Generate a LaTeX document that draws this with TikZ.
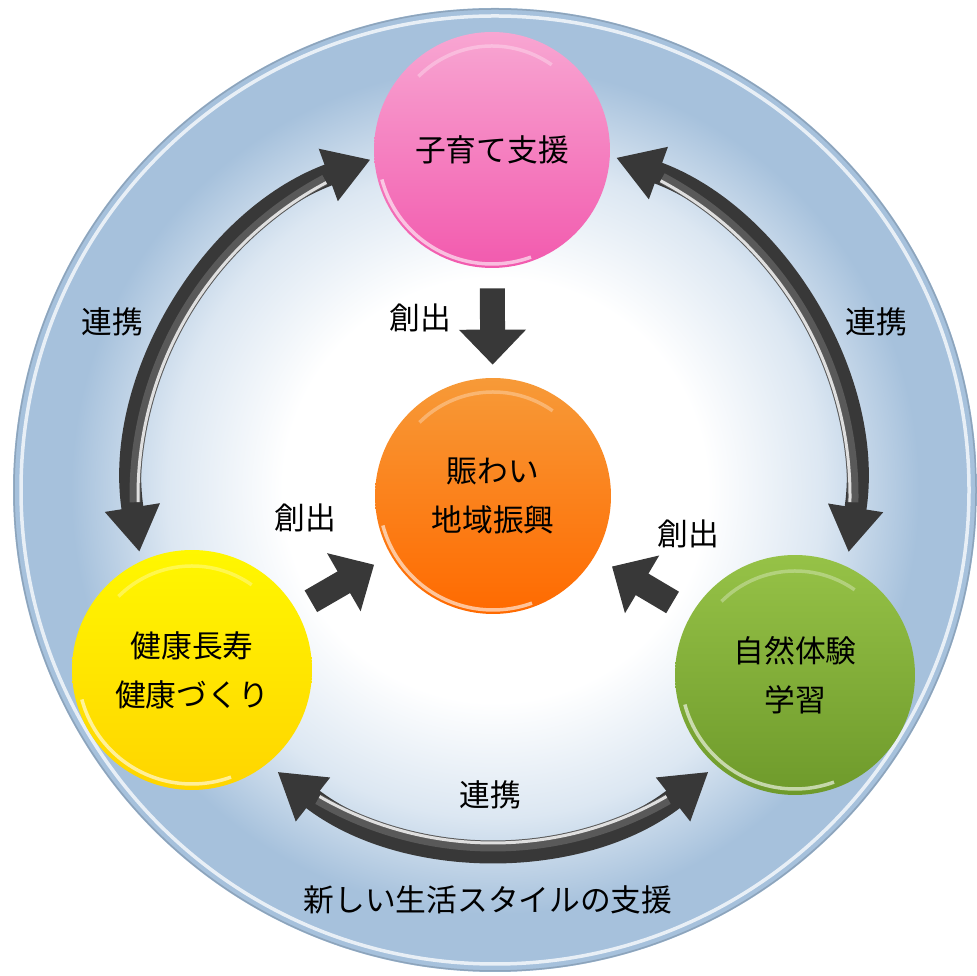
\documentclass[tikz,border=0pt]{standalone}
\usepackage{fontspec}
\setmainfont{Noto Sans CJK JP}
\usetikzlibrary{arrows.meta, positioning, calc}
\definecolor{bgedge}{HTML}{A6C1DC}
\definecolor{bgmid}{HTML}{DCE7F2}
\definecolor{tube}{HTML}{383838}
\definecolor{pinktop}{HTML}{F8A6D2}
\definecolor{pinkbot}{HTML}{F25AAE}
\definecolor{orangetop}{HTML}{F79A38}
\definecolor{orangebot}{HTML}{FF6A00}
\definecolor{yellowtop}{HTML}{FFF700}
\definecolor{yellowbot}{HTML}{FFD500}
\definecolor{greentop}{HTML}{96C247}
\definecolor{greenbot}{HTML}{6E9A2B}
\pgfdeclareradialshading{backdisc}{\pgfpoint{0bp}{0bp}}{color(0bp)=(white); color(11bp)=(white); color(17bp)=(bgmid); color(22bp)=(bgedge); color(25bp)=(bgedge); color(50bp)=(bgedge)}

\begin{document}
\begin{tikzpicture}[x=0.02cm, y=0.02cm,
    >={Triangle[length=0.9cm,width=1.05cm]},
    every node/.style={font=\fontsize{17.5}{28}\selectfont},
    disc/.style={circle, minimum size=4.72cm, inner sep=0pt, align=center},
    word/.style={inner sep=0pt},
    renkei/.style={draw=tube, line width=0.44cm, <->},
    sosyutsu/.style={draw=tube, line width=0.5cm, -{Triangle[length=0.7cm,width=1.3cm]}},
    gloss/.style={draw=white, line width=0.07cm, opacity=0.6}]
  \useasboundingbox (0,0) rectangle (977,976);
  \fill[white] (0,0) rectangle (977,976);
  % background disc
  \shade[shading=backdisc] (495,486) circle (482);
  \draw[bgedge!85!black, line width=0.03cm] (495,486) circle (481);
  \draw[white, opacity=0.75, line width=0.07cm] (495,486) circle (474);

  \node[disc, top color=pinktop, bottom color=pinkbot] (kosodate) at (492,826) {子育て支援};
  \node[disc, top color=orangetop, bottom color=orangebot] (nigiwai) at (493,480) {賑わい\\地域振興};
  \node[disc, minimum size=4.8cm, top color=yellowtop, bottom color=yellowbot] (kenko) at (192,306) {健康長寿\\健康づくり};
  \node[disc, minimum size=4.8cm, top color=greentop, bottom color=greenbot] (shizen) at (795,301) {自然体験\\学習};
  \foreach \n in {kosodate, nigiwai, kenko, shizen}{
    \draw[gloss] ([shift={(195:114)}]\n.center) arc[start angle=195, end angle=290, radius=114];
    \draw[gloss, opacity=0.3] ([shift={(55:104)}]\n.center) arc[start angle=55, end angle=135, radius=104];
  }

  % curved arrows (renkei)
  \foreach \a/\b/\r in {189/110/358, 70/-9/360, 232/308/350}{
    \pgfmathsetmacro\s{sign(\b-\a)}
    \draw[renkei] ([shift={(\a:\r)}]nigiwai.center) arc[start angle=\a, end angle=\b, radius=\r];
    \draw[draw=gray!70!black, line width=0.22cm] ([shift={(\a+8*\s:\r)}]nigiwai.center) arc[start angle=\a+8*\s, end angle=\b-8*\s, radius=\r];
    \draw[draw=gray!25, line width=0.06cm] ([shift={(\a+8*\s:\r-3)}]nigiwai.center) arc[start angle=\a+8*\s, end angle=\b-8*\s, radius=\r-3];
  }

  % straight arrows (sosyutsu)
  \draw[sosyutsu, shorten <=0.4cm, shorten >=0.26cm] (kosodate) -- (nigiwai);
  \draw[sosyutsu, shorten <=0.34cm, shorten >=0.38cm] (kenko) -- (nigiwai);
  \draw[sosyutsu, shorten <=0.44cm, shorten >=0.4cm] (shizen) -- (nigiwai);

  \node[word] (renkeiL) at (112,654) {連携};
  \node[word] (renkeiR) at (876,654) {連携};
  \node[word] (renkeiB) at (490,181) {連携};
  \node[word] (sosyutsuT) at (420,658) {創出};
  \node[word] (sosyutsuL) at (305,458) {創出};
  \node[word] (sosyutsuR) at (688,442) {創出};
  \node[word] (style) at (488,76) {新しい生活スタイルの支援};
\end{tikzpicture}
\end{document}
